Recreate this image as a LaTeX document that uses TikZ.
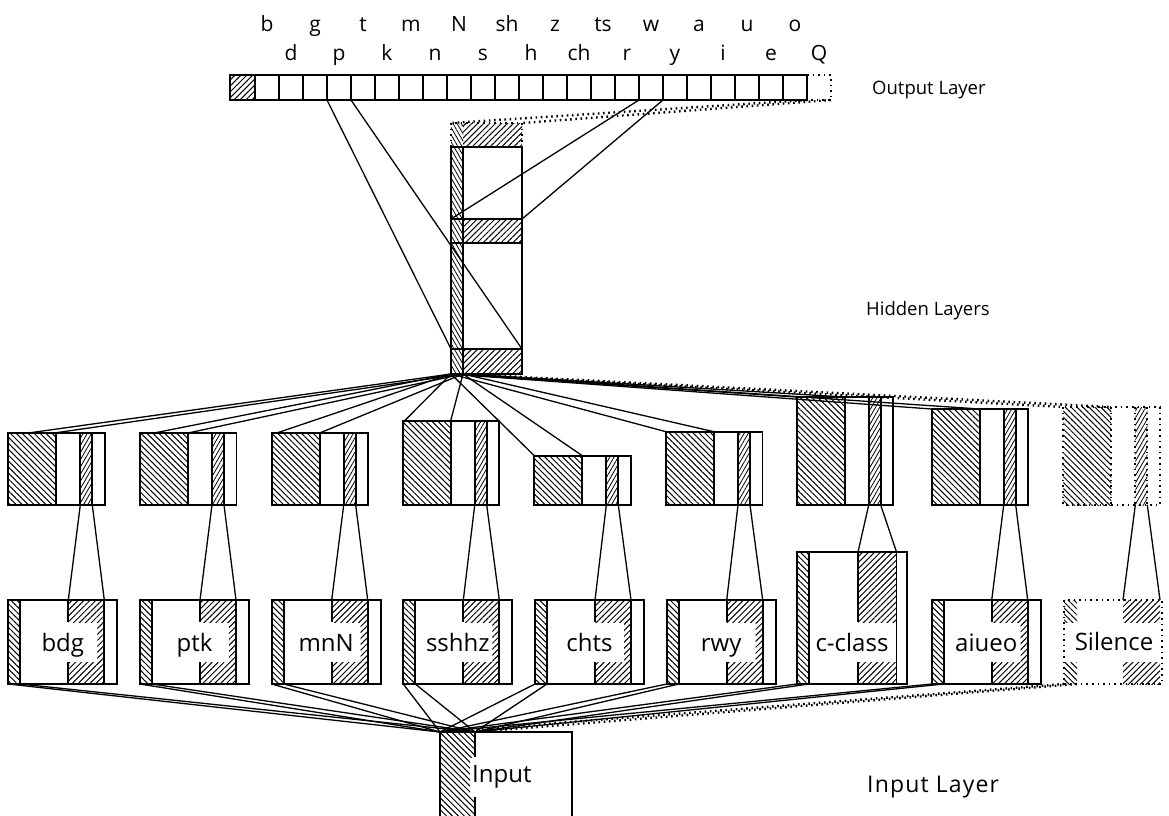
\documentclass[tikz,border=0pt]{standalone}
\usepackage{fontspec}
\setmainfont{Open Sans}
\usetikzlibrary{patterns.meta,calc}
\begin{document}
\begin{tikzpicture}[x=1pt,y=-1pt,
  box/.style={line width=1.9pt},
  dbox/.style={line width=2.2pt, dash pattern=on 1.6pt off 4pt},
  conn/.style={line width=1.3pt},
  dconn/.style={line width=2.4pt, dash pattern=on 1.6pt off 3.6pt},
  hR/.style={pattern={Lines[angle=45,distance=4.2pt,line width=1pt]}},
  hL/.style={pattern={Lines[angle=-45,distance=4.2pt,line width=1pt]}},
  hS/.style={pattern={Lines[angle=60,distance=3.6pt,line width=0.8pt]}},
  hSL/.style={pattern={Lines[angle=-60,distance=3.6pt,line width=0.8pt]}},
  olab/.style={font=\fontsize{21}{24}\selectfont, inner sep=0pt, anchor=base},
  layer/.style={font=\fontsize{18.5}{22}\selectfont, inner sep=0pt, anchor=base west},
  btxt/.style={font=\fontsize{24}{28}\selectfont, inner sep=0pt, anchor=base},
]
\useasboundingbox (0,0) rectangle (1169,815);
\fill[white] (0,0) rectangle (1169,815);
\clip (0,0) rectangle (1169,815);

% ---------------- Output layer ----------------
\fill[hR] (230,75) rectangle (255,100);
\draw[box] (230,75) rectangle (807,100);
\foreach \i in {0,...,22} { \draw[box] (255+\i*24,75) -- (255+\i*24,100); }
\draw[dbox] (807,75) -- (831,75) -- (831,100) -- (807,100);
\foreach \l [count=\k from 0] in {b,d,g,p,t,k,m,n,N,s,sh,h,z,ch,ts,r,w,y,a,i,u,e,o,Q} {
  \pgfmathsetmacro\xx{255+(\k+0.5)*24}
  \ifodd\k \node[olab] (lab\k) at (\xx,60) {\l};
  \else \node[olab] (lab\k) at (\xx,31.5) {\l};
  \fi
}
\coordinate (opl) at (327,100); \coordinate (opr) at (351,100);
\coordinate (owl) at (639,100); \coordinate (owr) at (663,100);
\coordinate (oql) at (807,100); \coordinate (oqr) at (831,100);
\node[layer] (outlbl) at (872,94) {Output Layer};

% ---------------- Hidden column ----------------
\fill[hR] (463,123) rectangle (522,147);
\fill[hSL] (451,123) rectangle (463,147);
\draw[dbox] (451,147) -- (451,123) -- (522,123) -- (522,147);
\fill[hSL] (451,147) rectangle (463,374);
\fill[hR] (463,219) rectangle (522,243);
\fill[hR] (463,349) rectangle (522,374);
\draw[box] (451,147) rectangle (522,374);
\draw[box] (463,147) -- (463,374);
\draw[box] (451,219) -- (522,219) (451,243) -- (522,243) (451,349) -- (522,349);
\coordinate (hidA) at (451,349); \coordinate (hidB) at (522,349);
\coordinate (hidC) at (451,219); \coordinate (hidD) at (522,219);
\coordinate (hidT1) at (451,123); \coordinate (hidT2) at (522,123);
\coordinate (hidS1) at (451,374); \coordinate (hidS2) at (463,374);
\node[layer] (hidlbl) at (866,315) {Hidden Layers};

\draw[conn] (opl) -- (hidA);
\draw[conn] (opr) -- (hidB);
\draw[conn] (owl) -- (hidC);
\draw[conn] (owr) -- (hidD);
\draw[dconn] (oql) -- (hidT1);
\draw[dconn] (oqr) -- (hidT2);

% ---------------- Middle (sub-network hidden) boxes ----------------
\foreach \n/\x/\t/\o in {m1/8.3/432.7/22, m2/140/433/14, m3/271.7/433/5, m4/402.7/420.7/2, m5/534.3/455.7/0, m6/666/431.7/0, m7/796.7/397/0, m8/931.7/409/0} {
  \fill[hL] (\x,\t) rectangle (\x+48,505);
  \fill[hS] (\x+72,\t) rectangle (\x+84,505);
  \draw[box] (\x,\t) rectangle (\x+96.5,505);
  \draw[box] (\x+48,\t) -- (\x+48,505) (\x+72,\t) -- (\x+72,505) (\x+84,\t) -- (\x+84,505);
  \coordinate (\n-tl) at (\x+\o,\t);
  \coordinate (\n-br) at (\x+48,\t);
  \coordinate (\n-sl) at (\x+72,505);
  \coordinate (\n-sr) at (\x+84,505);
  \draw[conn] (hidS1) -- (\n-tl);
  \draw[conn] (hidS2) -- (\n-br);
}
% silence hidden (dotted)
\fill[hL] (1063.3,407) rectangle (1111.3,505);
\fill[hS] (1135.3,407) rectangle (1147.3,505);
\draw[dbox] (1063.3,407) rectangle (1160,505);
\draw[dbox] (1111.3,407) -- (1111.3,505) (1135.3,407) -- (1135.3,505) (1147.3,407) -- (1147.3,505);
\coordinate (m9-tl) at (1063.3,407); \coordinate (m9-br) at (1111.3,407);
\coordinate (m9-sl) at (1135.3,505); \coordinate (m9-sr) at (1147.3,505);
\draw[dconn] (hidS1) -- (m9-tl);
\draw[dconn] (hidS2) -- (m9-br);

% ---------------- Input box ----------------
\fill[hL] (440,732) rectangle (470,830);
\fill[hL] (470,732) rectangle (475,757);
\fill[hL] (470,797) rectangle (475,830);
\draw[box] (440,830) -- (440,732) -- (572,732) -- (572,830);
\draw[box] (475,732) -- (475,757) (475,797) -- (475,830);
\node[btxt, anchor=base west] (input) at (472,782) {Input};
\coordinate (inl) at (440,732); \coordinate (inr) at (475,732);
\node[layer, font=\fontsize{23}{26}\selectfont\addfontfeature{LetterSpace=5}] (inlbl) at (867,792) {Input Layer};

% ---------------- Input sub-network boxes ----------------
\foreach \n/\m/\x/\t/\l in {i1/m1/8.3/600/bdg, i2/m2/140/600/ptk, i3/m3/271.7/600/mnN, i4/m4/403.3/600/sshhz, i5/m5/535/600/chts, i6/m6/666.7/600/rwy, i8/m8/931.7/600/aiueo} {
  \fill[hL] (\x,\t) rectangle (\x+12,684);
  \fill[hR] (\x+60,\t) rectangle (\x+96,622);
  \fill[hR] (\x+60,662) rectangle (\x+96,684);
  \fill[hR] (\x+89,622) rectangle (\x+96,662);
  \draw[box] (\x,\t) rectangle (\x+109,684);
  \draw[box] (\x+12,\t) -- (\x+12,684) (\x+96,\t) -- (\x+96,684);
  \draw[box] (\x+60,\t) -- (\x+60,622) (\x+60,662) -- (\x+60,684);
  \node[btxt] (\n) at (\x+54.5,651) {\l};
  \coordinate (\n-hl) at (\x+60,\t); \coordinate (\n-hr) at (\x+96,\t);
  \coordinate (\n-sl) at (\x,684); \coordinate (\n-sr) at (\x+12,684);
  \draw[conn] (\m-sl) -- (\n-hl);
  \draw[conn] (\m-sr) -- (\n-hr);
  \draw[conn] (\n-sl) -- (inl);
  \draw[conn] (\n-sr) -- (inr);
}
% c-class
\fill[hL] (796.7,552) rectangle (808.7,684);
\fill[hR] (858,552) rectangle (896.5,622);
\fill[hR] (858,662) rectangle (896.5,684);
\draw[box] (796.7,552) rectangle (907,684);
\draw[box] (808.7,552) -- (808.7,684) (896.5,552) -- (896.5,684);
\draw[box] (858,552) -- (858,622) (858,662) -- (858,684);
\node[btxt] (i7) at (852,651) {c-class};
\coordinate (i7-hl) at (858,552); \coordinate (i7-hr) at (896.5,552);
\coordinate (i7-sl) at (796.7,684); \coordinate (i7-sr) at (808.7,684);
\draw[conn] (m7-sl) -- (i7-hl);
\draw[conn] (m7-sr) -- (i7-hr);
\draw[conn] (i7-sl) -- (inl);
\draw[conn] (i7-sr) -- (inr);
% silence input
\fill[hL] (1064,600) rectangle (1077,622);
\fill[hL] (1064,662) rectangle (1077,684);
\fill[hR] (1123,600) rectangle (1160,622);
\fill[hR] (1123,662) rectangle (1160,684);
\draw[dbox] (1064,600) rectangle (1162,684);
\node[btxt] (i9) at (1114,650) {Silence};
\coordinate (i9-hl) at (1123,600); \coordinate (i9-hr) at (1160,600);
\coordinate (i9-sl) at (1064,684); \coordinate (i9-sr) at (1077,684);
\draw[conn] (m9-sl) -- (i9-hl);
\draw[conn] (m9-sr) -- (i9-hr);
\draw[dconn] (i9-sl) -- (inl);
\draw[dconn] (i9-sr) -- (inr);
\end{tikzpicture}
\end{document}
